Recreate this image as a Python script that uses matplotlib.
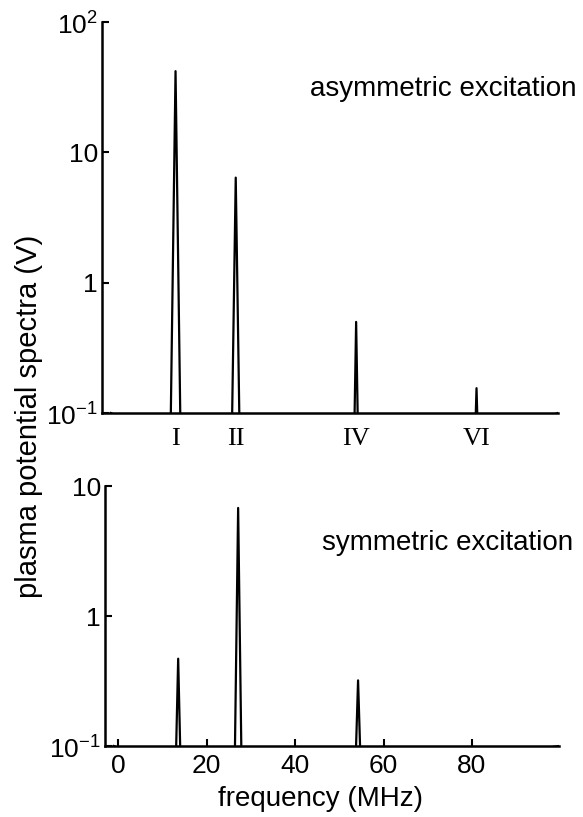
import numpy as np
import matplotlib
matplotlib.use('Agg')
import matplotlib.pyplot as plt
from matplotlib.ticker import FixedLocator, FixedFormatter

# harmonic peaks (MHz, V)
asym_freq = [13.56, 27.12, 54.24, 81.36]
asym_peak = [42.0, 6.4, 0.50, 0.155]
asym_width = [2.3, 1.8, 0.9, 0.7]

sym_freq = [13.56, 27.12, 54.24]
sym_peak = [0.47, 6.8, 0.32]
sym_width = [1.2, 1.6, 1.3]

harmonic_labels = ['I', 'II', 'IV', 'VI']
noise_floor = 0.1


def spectrum(freqs, peaks, widths):
    f = [-1.0]
    v = [noise_floor]
    for fc, p, w in zip(freqs, peaks, widths):
        f += [fc - w / 2, fc, fc + w / 2]
        v += [noise_floor * 0.6, p, noise_floor * 0.6]
    f.append(99.7)
    v.append(noise_floor)
    return np.array(f), np.array(v)


plt.rcParams['font.family'] = ['Liberation Sans', 'DejaVu Sans']
plt.rcParams['mathtext.fontset'] = 'custom'
plt.rcParams['mathtext.rm'] = 'Liberation Sans'

fig = plt.figure(figsize=(5.83, 8.17), dpi=100)
ax1 = fig.add_axes([0.175, 0.4945, 0.782, 0.4785])
ax2 = fig.add_axes([0.180, 0.0869, 0.779, 0.318])

for ax in (ax1, ax2):
    ax.set_yscale('log')
    ax.set_xlim(-3, 99.7)
    for s in ('top', 'right'):
        ax.spines[s].set_visible(False)
    for s in ('left', 'bottom'):
        ax.spines[s].set_linewidth(1.8)
    ax.tick_params(which='both', direction='in', labelsize=19, width=1.5, length=5, pad=3)
    ax.tick_params(which='minor', length=0)

f1, v1 = spectrum(asym_freq, asym_peak, asym_width)
ax1.plot(f1, v1, color='black', lw=1.6)
ax1.set_ylim(0.1, 100)
ax1.yaxis.set_major_locator(FixedLocator([0.1, 1, 10, 100]))
ax1.yaxis.set_major_formatter(FixedFormatter([r'$10^{-1}$', '1', '10', r'$10^{2}$']))
ax1.set_xticks([])
ax1.text(1.04, 0.83, 'asymmetric excitation', transform=ax1.transAxes,
         ha='right', va='center', fontsize=20)
for fc, lab in zip(asym_freq, harmonic_labels):
    ax1.text(fc, -0.066, lab, transform=ax1.get_xaxis_transform(), ha='center',
             va='center', fontsize=19, family='Liberation Serif')

f2, v2 = spectrum(sym_freq, sym_peak, sym_width)
ax2.plot(f2, v2, color='black', lw=1.6)
ax2.set_ylim(0.1, 10)
ax2.yaxis.set_major_locator(FixedLocator([0.1, 1, 10]))
ax2.yaxis.set_major_formatter(FixedFormatter([r'$10^{-1}$', '1', '10']))
ax2.set_xticks([0, 20, 40, 60, 80])
ax2.tick_params(axis='x', pad=6)
ax2.set_xlabel('frequency (MHz)', fontsize=20)
ax2.xaxis.set_label_coords(0.474, -0.155)
ax2.text(1.03, 0.78, 'symmetric excitation', transform=ax2.transAxes,
         ha='right', va='center', fontsize=20)

fig.text(0.05, 0.49, 'plasma potential spectra (V)', rotation=90,
         ha='center', va='center', fontsize=21)

fig.savefig('out.png', dpi=100)
